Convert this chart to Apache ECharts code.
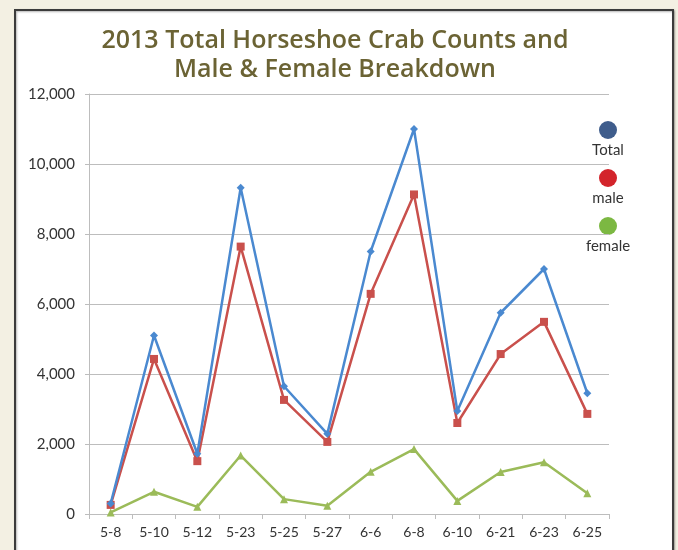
<!DOCTYPE html>
<html>
<head>
<meta charset="utf-8">
<script src="https://cdn.jsdelivr.net/npm/echarts@6/dist/echarts.min.js"></script>
<style>
html,body{margin:0;padding:0;background:#f3f0e3;}
#c{width:678px;height:550px;}
</style>
</head>
<body>
<div id="c"></div>
<script>
var categories = ['5-8','5-10','5-12','5-23','5-25','5-27','6-6','6-8','6-10','6-21','6-23','6-25'];
var totalValues = [300, 5100, 1720, 9320, 3650, 2290, 7500, 11000, 2940, 5750, 7000, 3450];
var maleValues = [260, 4430, 1510, 7640, 3260, 2060, 6290, 9130, 2600, 4570, 5490, 2860];
var femaleValues = [45, 635, 205, 1670, 425, 235, 1205, 1855, 375, 1200, 1480, 595];
var legendNames = ['Total', 'male', 'female'];
var legendColors = ['#3f5d8c', '#d3242b', '#7cb842'];
var yTicks = {min: 0, max: 12000, interval: 2000};

var chart = echarts.init(document.getElementById('c'), null, {renderer: 'canvas'});
var font = 'Lato, "Open Sans", sans-serif';
var titleFont = '"Open Sans", Lato, sans-serif';

var graphics = [{
  type: 'rect', z: -10, silent: true,
  shape: {x: 15, y: 10, width: 658, height: 560},
  style: {fill: '#ffffff', stroke: '#3b3b3b', lineWidth: 2,
          shadowBlur: 2, shadowColor: 'rgba(0,0,0,0.3)', shadowOffsetX: 1, shadowOffsetY: 1}
}];
legendNames.forEach(function(n, i){
  graphics.push({type: 'circle', shape: {cx: 608, cy: 130 + i*48, r: 9}, style: {fill: legendColors[i]}});
  graphics.push({type: 'text', style: {text: n, x: 608, y: 150 + i*48, align: 'center', verticalAlign: 'middle',
    fill: '#333', font: '15px ' + font}});
});

chart.setOption({
  backgroundColor: 'transparent',
  animation: false,
  title: {
    text: '2013 Total Horseshoe Crab Counts and\nMale & Female Breakdown',
    left: 330, top: 21, textAlign: 'center',
    textStyle: {color: '#6b6334', fontSize: 25, fontWeight: 600, fontFamily: titleFont, lineHeight: 29}
  },
  graphic: graphics,
  grid: {left: 89, right: 69, top: 94, bottom: 36},
  xAxis: {
    type: 'category', data: categories, boundaryGap: true,
    axisLine: {lineStyle: {color: '#bdbdbd', width: 1}},
    axisTick: {show: true, interval: 0, length: 5, lineStyle: {color: '#bdbdbd'}},
    axisLabel: {color: '#333', fontSize: 14, fontFamily: font, margin: 11, interval: 0}
  },
  yAxis: {
    type: 'value', min: yTicks.min, max: yTicks.max, interval: yTicks.interval,
    axisLine: {show: true, lineStyle: {color: '#bdbdbd', width: 1}},
    axisTick: {show: true, length: 4, lineStyle: {color: '#bdbdbd'}},
    splitLine: {lineStyle: {color: '#bdbdbd', width: 1}},
    axisLabel: {color: '#333', fontSize: 15, fontFamily: font, margin: 14,
      formatter: function(v){ return v.toLocaleString('en-US'); }}
  },
  series: [
    {name: 'Total', type: 'line', data: totalValues, symbol: 'diamond', symbolSize: 8,
     lineStyle: {color: '#4a89d0', width: 2.5}, itemStyle: {color: '#4a89d0'}, z: 3},
    {name: 'male', type: 'line', data: maleValues, symbol: 'rect', symbolSize: 8,
     lineStyle: {color: '#c9504c', width: 2.5}, itemStyle: {color: '#c9504c'}, z: 2},
    {name: 'female', type: 'line', data: femaleValues, symbol: 'triangle', symbolSize: 8,
     lineStyle: {color: '#9bbb59', width: 2.5}, itemStyle: {color: '#9bbb59'}, z: 1}
  ]
});
</script>
</body>
</html>
